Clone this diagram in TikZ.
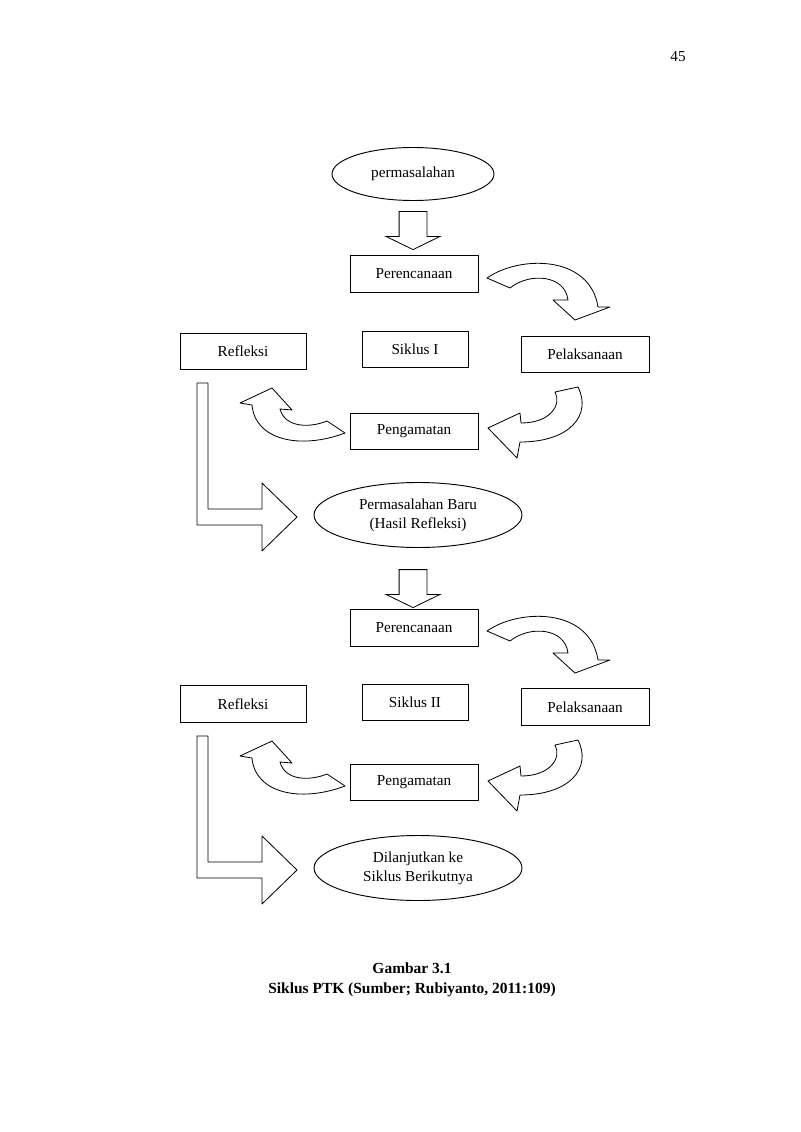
\documentclass[tikz,border=0pt]{standalone}
\usepackage{fontspec}
\setmainfont{Liberation Serif}
\usetikzlibrary{shapes.geometric, shapes.arrows, calc}

\begin{document}
\begin{tikzpicture}[
    x=0.03cm, y=-0.03cm,
    font=\fontsize{13}{16}\selectfont,
    box/.style={draw, line width=0.8pt, minimum height=1.1cm, inner sep=2pt, align=center},
    oval/.style={draw, ellipse, line width=0.8pt, inner sep=0pt, align=center},
    downarrow/.style={draw, single arrow, shape border rotate=270, line width=0.7pt, minimum height=1.14cm, minimum width=1.59cm, single arrow head extend=0.39cm, single arrow tip angle=128, inner sep=0.405cm},
    turn/.style={draw, line width=0.7pt, line join=round},
]
    \useasboundingbox (0,0) rectangle (800,1132);

    \node (page) at (678,57) {45};

    % Siklus I
    \node[oval, minimum width=4.86cm, minimum height=1.59cm] (masalah) at (413,174) {permasalahan};
    \node[box, minimum width=3.84cm] (plan1) at (414,274) {Perencanaan};
    \node[box, minimum width=3.78cm] (refl1) at (243,351.5) {Refleksi};
    \node[box, minimum width=3.18cm] (siklus1) at (415,349.5) {Siklus I};
    \node[box, minimum width=3.84cm] (exec1) at (585,354.5) {Pelaksanaan};
    \node[box, minimum width=3.84cm] (obs1) at (414,431.5) {Pengamatan};
    \node[oval, minimum width=6.24cm, minimum height=1.95cm] (baru) at (418,515) {Permasalahan Baru\\(Hasil Refleksi)};

    % Siklus II
    \node[box, minimum width=3.84cm] (plan2) at (414,628) {Perencanaan};
    \node[box, minimum width=3.78cm] (refl2) at (243,704) {Refleksi};
    \node[box, minimum width=3.18cm] (siklus2) at (415,702.5) {Siklus II};
    \node[box, minimum width=3.84cm] (exec2) at (585,707) {Pelaksanaan};
    \node[box, minimum width=3.84cm] (obs2) at (414,782.5) {Pengamatan};
    \node[oval, minimum width=6.24cm, minimum height=1.95cm] (lanjut) at (418,868) {Dilanjutkan ke\\Siklus Berikutnya};

    % Arrows
    \node[downarrow] (down1) at ($(plan1.north)+(-1,-28)$) {};
    \node[downarrow] (down2) at ($(plan2.north)+(-1,-24)$) {};

    \foreach \dy in {0,353} {
      \begin{scope}[shift={(0,\dy)}]
        % plan -> exec
        \path[turn] (487,278) .. controls (520,255) and (590,255) .. (598,307)
          -- (610,307) -- (575,320) -- (553,300) -- (568,300)
          .. controls (565,275) and (530,272) .. (510,288) -- cycle;
        % exec -> obs
        \path[turn] (578,387) .. controls (592,415) and (570,442) .. (520,442)
          -- (517,458) -- (488,428) -- (520,413) -- (521,423)
          .. controls (550,423) and (562,405) .. (555,392) -- cycle;
        % obs -> refl
        \path[turn] (345,433) .. controls (300,450) and (255,440) .. (252,405)
          -- (240,403) -- (272,388) -- (292,410) -- (280,409)
          .. controls (285,428) and (310,428) .. (327,421) -- cycle;
        % refl -> next
        \path[turn] (197,383) -- (208,383) -- (208,509) -- (262,509) -- (262,483)
          -- (297,517) -- (262,551) -- (262,525) -- (197,525) -- cycle;
      \end{scope}
    }

    \node[font=\bfseries\fontsize{13.2}{17.5}\selectfont, align=center] (caption) at (412,980)
      {Gambar 3.1\\Siklus PTK (Sumber; Rubiyanto, 2011:109)};

\end{tikzpicture}
\end{document}
